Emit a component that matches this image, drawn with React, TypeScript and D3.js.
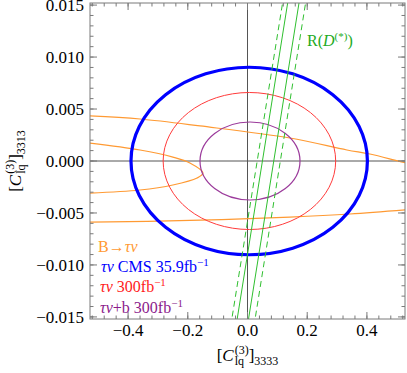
import React from 'react';
import * as d3 from 'd3';

// contour ellipses: centre and half-widths in data units
const ellipses = [
  { name: 'cms', cx: 0.0057, cy: 0.0, rx: 0.396, ry: 0.00902, color: '#0000ff', width: 3.2 },
  { name: 'tn300', cx: 0.0064, cy: 0.0, rx: 0.289, ry: 0.00659, color: '#ff3b3b', width: 1 },
  { name: 'tnb300', cx: 0.0084, cy: 0.0, rx: 0.1675, ry: 0.00375, color: '#9b3a9b', width: 1.2 },
];

// B -> tau nu contours
const orangeUpper: [number, number][] = [
  [-0.54, 0.00435], [-0.36, 0.00404], [-0.159, 0.00337], [0.142, 0.00221],
  [0.333, 0.00106], [0.41, 0.00067], [0.504, 0.0], [0.54, -0.00025],
];
const orangeInner: [number, number][] = [
  [-0.54, 0.00176], [-0.36, 0.00106], [-0.25, 0.00038], [-0.193, -0.00019],
  [-0.149, -0.00115], [-0.169, -0.00164], [-0.25, -0.00231], [-0.36, -0.00279], [-0.54, -0.0031],
];
const orangeLower: [number, number][] = [
  [-0.54, -0.00588], [-0.193, -0.00572], [0.142, -0.00539], [0.343, -0.0051], [0.54, -0.00468],
];

// R(D*) band, endpoints at y = +0.016 and y = -0.016
const greenSolid: [number, number][][] = [
  [[0.139, 0.016], [-0.039, -0.016]],
  [[0.177, 0.016], [-0.001, -0.016]],
];
const greenDashed: [number, number][][] = [
  [[0.122, 0.016], [-0.057, -0.016]],
  [[0.199, 0.016], [0.021, -0.016]],
];

const xTicks = [-0.4, -0.2, 0.0, 0.2, 0.4];
const yTicks = [-0.015, -0.01, -0.005, 0.0, 0.005, 0.01, 0.015];

const W = 407;
const H = 373;
const left = 90;
const right = 405;
const top = 3;
const bottom = 319;

const ORANGE = '#ff9a33';
const GREEN = '#2fbf2f';
const FRAME = '#7a7a7a';
const serif = '"Liberation Serif", "DejaVu Serif", serif';

export default function App() {
  const x = d3.scaleLinear().domain([-0.5276, 0.5276]).range([left, right]);
  const y = d3.scaleLinear().domain([-0.0152, 0.0152]).range([bottom, top]);

  const line = d3.line<[number, number]>().x(d => x(d[0])).y(d => y(d[1]));
  const curve = d3.line<[number, number]>().x(d => x(d[0])).y(d => y(d[1])).curve(d3.curveCatmullRom.alpha(0.5));

  const xMinor = d3.range(-0.52, 0.521, 0.04).map(v => +v.toFixed(2));
  const yMinor = d3.range(-0.015, 0.0151, 0.001).map(v => +v.toFixed(3));
  const fx = d3.format('.1f');
  const fy = d3.format('.3f');

  return (
    <svg width={W} height={H} style={{ position: 'absolute', left: 0, top: 0, background: '#fff' }} fontFamily={serif}>
      <defs>
        <clipPath id="plot">
          <rect x={left} y={top} width={right - left} height={bottom - top} />
        </clipPath>
      </defs>

      <g clipPath="url(#plot)">
        {/* zero axes */}
        <line x1={x(0)} x2={x(0)} y1={top} y2={bottom} stroke="#555" strokeWidth={1} />
        <line x1={left} x2={right} y1={y(0)} y2={y(0)} stroke="#555" strokeWidth={1} />

        {[orangeUpper, orangeInner, orangeLower].map((pts, i) => (
          <path key={'o' + i} d={curve(pts) || ''} fill="none" stroke={ORANGE} strokeWidth={1.2} />
        ))}

        {ellipses.map(e => (
          <ellipse key={e.name} cx={x(e.cx)} cy={y(e.cy)} rx={x(e.cx + e.rx) - x(e.cx)} ry={y(0) - y(e.ry)}
            fill="none" stroke={e.color} strokeWidth={e.width} />
        ))}

        {greenSolid.map((pts, i) => (
          <path key={'gs' + i} d={line(pts) || ''} fill="none" stroke={GREEN} strokeWidth={1} />
        ))}
        {greenDashed.map((pts, i) => (
          <path key={'gd' + i} d={line(pts) || ''} fill="none" stroke={GREEN} strokeWidth={1} strokeDasharray="6,4" />
        ))}
      </g>

      {/* frame and ticks */}
      <rect x={left} y={top} width={right - left} height={bottom - top} fill="none" stroke={FRAME} strokeWidth={1} />
      {xMinor.map(v => (
        <g key={'xm' + v} stroke={FRAME}>
          <line x1={x(v)} x2={x(v)} y1={bottom} y2={bottom - 3.5} />
          <line x1={x(v)} x2={x(v)} y1={top} y2={top + 3.5} />
        </g>
      ))}
      {xTicks.map(v => (
        <g key={'xt' + v}>
          <line x1={x(v)} x2={x(v)} y1={bottom} y2={bottom - 7} stroke={FRAME} />
          <line x1={x(v)} x2={x(v)} y1={top} y2={top + 7} stroke={FRAME} />
          <text x={x(v)} y={bottom + 17} textAnchor="middle" fontSize={17}>{fx(v)}</text>
        </g>
      ))}
      {yMinor.map(v => (
        <g key={'ym' + v} stroke={FRAME}>
          <line x1={left} x2={left + 3.5} y1={y(v)} y2={y(v)} />
          <line x1={right} x2={right - 3.5} y1={y(v)} y2={y(v)} />
        </g>
      ))}
      {yTicks.map(v => (
        <g key={'yt' + v}>
          <line x1={left} x2={left + 7} y1={y(v)} y2={y(v)} stroke={FRAME} />
          <line x1={right} x2={right - 7} y1={y(v)} y2={y(v)} stroke={FRAME} />
          <text x={left - 6} y={y(v)} dy="0.33em" textAnchor="end" fontSize={17}>{fy(v)}</text>
        </g>
      ))}

      {/* axis titles */}
      <text x={x(0)} y={361} textAnchor="middle" fontSize={17}>
        <tspan>[</tspan>
        <tspan fontStyle="italic">C</tspan>
        <tspan fontSize={12} dx={1} dy={-7}>(3)</tspan>
        <tspan fontSize={12} dx={-14} dy={11}>lq</tspan>
        <tspan dx={4.7} dy={-4}>]</tspan>
        <tspan fontSize={12} dy={4}>3333</tspan>
      </text>
      <text transform={`translate(21,${y(0)}) rotate(-90)`} textAnchor="middle" fontSize={17}>
        <tspan>[</tspan>
        <tspan fontStyle="italic">C</tspan>
        <tspan fontSize={12} dx={1} dy={-7}>(3)</tspan>
        <tspan fontSize={12} dx={-14} dy={11}>lq</tspan>
        <tspan dx={4.7} dy={-4}>]</tspan>
        <tspan fontSize={12} dy={4}>3313</tspan>
      </text>

      {/* R(D*) label */}
      <text x={307} y={46} fontSize={16} fill="#22aa22">
        <tspan>R(</tspan>
        <tspan fontStyle="italic">D</tspan>
        <tspan fontSize={11} dy={-6}>(*)</tspan>
        <tspan dy={6}>)</tspan>
      </text>

      {/* legend */}
      <g fontSize={16}>
        <text x={98} y={252} fill={ORANGE}>
          B→<tspan fontStyle="italic">τν</tspan>
        </text>
        <text x={101} y={272} fill="#0000ff">
          <tspan fontStyle="italic">τν</tspan> CMS 35.9fb<tspan fontSize={11} dy={-6}>−1</tspan>
        </text>
        <text x={100} y={292} fill="#ff1a1a">
          <tspan fontStyle="italic">τν</tspan> 300fb<tspan fontSize={11} dy={-6}>−1</tspan>
        </text>
        <text x={100} y={313} fill="#8b1a8b">
          <tspan fontStyle="italic">τν</tspan>+b 300fb<tspan fontSize={11} dy={-6}>−1</tspan>
        </text>
      </g>
    </svg>
  );
}
